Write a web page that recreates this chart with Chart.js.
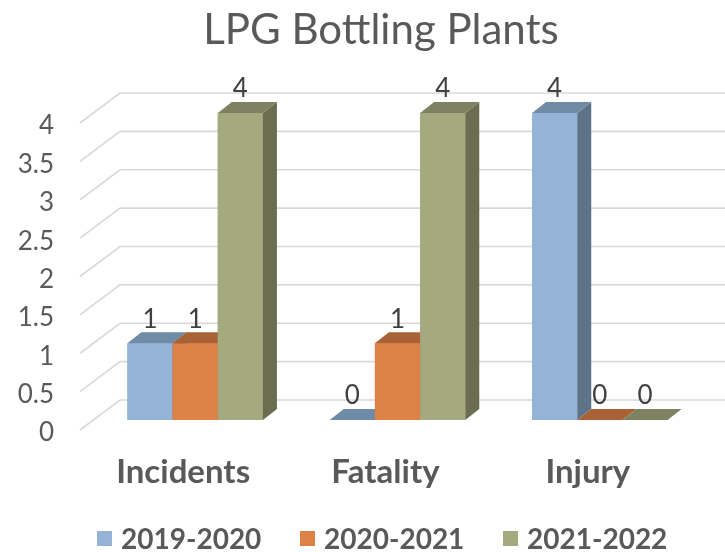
<!DOCTYPE html>
<html><head><meta charset="utf-8">
<script src="https://cdn.jsdelivr.net/npm/chart.js@4.4.0/dist/chart.umd.min.js"></script>
<style>html,body{margin:0;padding:0;background:#fff}canvas{display:block}</style>
</head><body>
<canvas id="c" width="725" height="552"></canvas>
<script>
const categories = ['Incidents', 'Fatality', 'Injury'];
const seriesNames = ['2019-2020', '2020-2021', '2021-2022'];
const values2019 = [1, 0, 4];
const values2020 = [1, 1, 0];
const values2021 = [4, 4, 0];
const yTickLabels = ['0', '0.5', '1', '1.5', '2', '2.5', '3', '3.5', '4'];
const yMin = 0, yMax = 4, yStep = 0.5;

const frontColors = ['#95B3D7', '#DE8146', '#A4A97E'];
const topColors = ['#6F8BA6', '#A86236', '#7F8262'];
const sideColors = ['#5F7388', '#8F5330', '#6A6D50'];
const DX = 14, DY = -11;
const textGray = '#595959';
const FONT = 'Lato, "Open Sans", sans-serif';
const Y_FONT_SIZE = 26;
const Y_LABEL_RIGHT = 54;   // right edge of y tick labels
const PLOT_LEFT = 94;

// width of widest y label, to right-align mirrored labels at Y_LABEL_RIGHT
const mctx = document.createElement('canvas').getContext('2d');
mctx.font = 'normal ' + Y_FONT_SIZE + 'px ' + FONT;
const widestY = Math.max(...yTickLabels.map(t => mctx.measureText(t).width));

const legendPlugin = {
  id: 'legend3d',
  afterDraw(chart) {
    const {ctx} = chart;
    ctx.save();
    ctx.font = 'bold 28px ' + FONT;
    ctx.textAlign = 'left';
    ctx.textBaseline = 'middle';
    chart.data.datasets.forEach((ds, i) => {
      const bx = 97 + i * 203;
      ctx.fillStyle = ds.backgroundColor;
      ctx.fillRect(bx, 531, 15, 15);
      ctx.fillStyle = textGray;
      ctx.fillText(ds.label, bx + 24, 540);
    });
    ctx.restore();
  }
};

const plugin3d = {
  id: 'bars3d',
  beforeDatasetsDraw(chart) {
    const {ctx, chartArea, scales: {y}} = chart;
    ctx.save();
    ctx.strokeStyle = '#D9D9D9';
    ctx.lineWidth = 1.6;
    y.ticks.forEach(t => {
      const yf = y.getPixelForValue(t.value);
      ctx.beginPath();
      ctx.moveTo(chartArea.left - 14, yf + 10);
      ctx.lineTo(chartArea.left + 26, yf - 20);
      ctx.lineTo(chart.width, yf - 20);
      ctx.stroke();
    });
    ctx.restore();
  },
  afterDatasetsDraw(chart) {
    const {ctx} = chart;
    ctx.save();
    // redraw in series order so each bar hides the side face of the one to its left
    chart.data.datasets.forEach((ds, i) => {
      chart.getDatasetMeta(i).data.forEach(bar => {
        bar.draw(ctx);
        const {x, y, base, width} = bar.getProps(['x', 'y', 'base', 'width'], true);
        const l = x - width / 2, r = x + width / 2;
        ctx.fillStyle = sideColors[i];
        ctx.beginPath();
        ctx.moveTo(r, y); ctx.lineTo(r + DX, y + DY); ctx.lineTo(r + DX, base + DY); ctx.lineTo(r, base);
        ctx.closePath(); ctx.fill();
        ctx.fillStyle = topColors[i];
        ctx.beginPath();
        ctx.moveTo(l, y); ctx.lineTo(l + DX, y + DY); ctx.lineTo(r + DX, y + DY); ctx.lineTo(r, y);
        ctx.closePath(); ctx.fill();
      });
    });
    ctx.fillStyle = '#404040';
    ctx.font = '26px ' + FONT;
    ctx.textAlign = 'center';
    ctx.textBaseline = 'middle';
    chart.data.datasets.forEach((ds, i) => {
      chart.getDatasetMeta(i).data.forEach((bar, j) => {
        const {x, y} = bar.getProps(['x', 'y'], true);
        ctx.fillText(String(ds.data[j]), x, y - 24);
      });
    });
    ctx.restore();
  }
};

new Chart(document.getElementById('c'), {
  type: 'bar',
  data: {
    labels: categories,
    datasets: [
      {label: seriesNames[0], data: values2019, backgroundColor: frontColors[0]},
      {label: seriesNames[1], data: values2020, backgroundColor: frontColors[1]},
      {label: seriesNames[2], data: values2021, backgroundColor: frontColors[2]}
    ]
  },
  options: {
    responsive: false,
    animation: false,
    layout: {padding: {left: 61, right: 24, top: 0, bottom: 0}},
    datasets: {bar: {categoryPercentage: 0.67, barPercentage: 1.0}},
    plugins: {
      tooltip: {enabled: false},
      legend: {display: false},
      title: {
        display: true, text: 'LPG Bottling Plants', color: textGray,
        font: {family: FONT, size: 42, weight: 'normal'},
        padding: {top: 5, bottom: 57.6}
      }
    },
    scales: {
      x: {
        grid: {display: false, drawTicks: false},
        border: {display: false},
        ticks: {color: textGray, padding: 33, labelOffset: -12, maxRotation: 0,
                font: {family: FONT, size: 33, weight: 'bold'}},
        afterFit(scale) { scale.height = 132; }
      },
      y: {
        min: yMin, max: yMax,
        grid: {display: false, drawTicks: false},
        border: {display: false},
        ticks: {stepSize: yStep, color: textGray, mirror: true, crossAlign: 'far',
                padding: Y_LABEL_RIGHT - PLOT_LEFT - widestY, labelOffset: 13,
                font: {family: FONT, size: Y_FONT_SIZE},
                callback: (v, i) => yTickLabels[i]},
        afterFit(scale) { scale.width = PLOT_LEFT - 61; }
      }
    }
  },
  plugins: [plugin3d, legendPlugin]
});
</script>
</body></html>
